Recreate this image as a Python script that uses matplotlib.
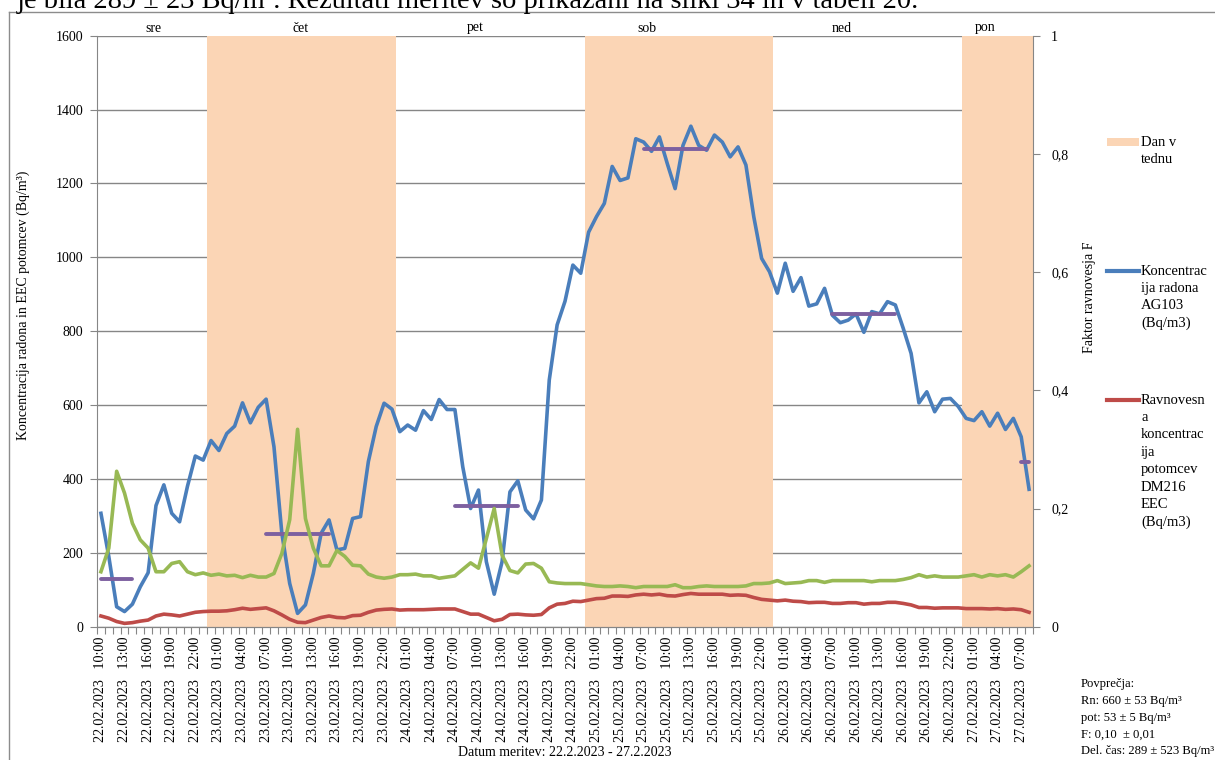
import numpy as np
import pandas as pd
import matplotlib
matplotlib.use("Agg")
import matplotlib.pyplot as plt
from matplotlib.lines import Line2D
from matplotlib.patches import Rectangle

plt.rcParams['font.family'] = ['Liberation Serif', 'DejaVu Serif']
plt.rcParams['font.size'] = 10

# urne meritve 22.2.2023 10:00 - 27.2.2023 08:00
cas = pd.date_range('2023-02-22 10:00', '2023-02-27 08:00', freq='h')

radon = [307, 190, 54, 41, 61, 108, 146, 328, 384, 307,
         284, 380, 462, 451, 504, 477, 523, 543, 606, 552,
         594, 616, 487, 253, 117, 36, 59, 144, 253, 289,
         208, 212, 293, 298, 447, 542, 605, 589, 528, 546,
         532, 585, 561, 615, 588, 588, 433, 320, 370, 176,
         88, 176, 365, 395, 316, 292, 343, 668, 817, 881,
         979, 957, 1068, 1110, 1146, 1246, 1208, 1215, 1321, 1312,
         1287, 1326, 1254, 1186, 1303, 1355, 1303, 1290, 1331, 1312,
         1272, 1299, 1250, 1110, 997, 961, 903, 984, 908, 945,
         868, 874, 916, 843, 823, 830, 847, 797, 853, 847,
         880, 871, 808, 740, 606, 636, 582, 616, 618, 596,
         564, 558, 582, 543, 578, 534, 564, 514, 372]

potomci = [29, 23, 14, 9, 11, 15, 18, 29, 34, 32,
           29, 34, 39, 41, 42, 42, 43, 46, 50, 47,
           49, 51, 43, 32, 20, 12, 11, 18, 25, 29,
           25, 24, 30, 31, 39, 45, 47, 48, 45, 46,
           46, 46, 47, 48, 48, 48, 41, 34, 34, 25,
           16, 20, 33, 34, 32, 31, 33, 51, 61, 63,
           69, 68, 72, 76, 77, 83, 83, 82, 86, 88,
           86, 88, 84, 83, 87, 90, 88, 88, 88, 88,
           85, 86, 85, 79, 74, 72, 70, 72, 69, 68,
           65, 66, 66, 63, 63, 65, 65, 61, 63, 63,
           66, 66, 63, 59, 52, 52, 50, 51, 51, 51,
           49, 49, 49, 48, 49, 47, 48, 46, 39]

faktor_f = [0.093, 0.133, 0.263, 0.226, 0.175, 0.147, 0.133, 0.093, 0.093, 0.107,
            0.110, 0.093, 0.088, 0.091, 0.087, 0.089, 0.086, 0.087, 0.083, 0.087,
            0.084, 0.084, 0.090, 0.124, 0.181, 0.334, 0.183, 0.133, 0.103, 0.103,
            0.129, 0.119, 0.104, 0.103, 0.089, 0.084, 0.082, 0.084, 0.088, 0.088,
            0.089, 0.086, 0.086, 0.082, 0.084, 0.086, 0.097, 0.108, 0.099, 0.149,
            0.200, 0.121, 0.095, 0.091, 0.106, 0.107, 0.099, 0.076, 0.074, 0.073,
            0.073, 0.073, 0.071, 0.069, 0.068, 0.068, 0.069, 0.068, 0.066, 0.068,
            0.068, 0.068, 0.068, 0.071, 0.066, 0.066, 0.068, 0.069, 0.068, 0.068,
            0.068, 0.068, 0.069, 0.073, 0.073, 0.074, 0.078, 0.073, 0.074, 0.075,
            0.078, 0.078, 0.075, 0.078, 0.078, 0.078, 0.078, 0.078, 0.076, 0.078,
            0.078, 0.078, 0.080, 0.083, 0.088, 0.084, 0.086, 0.084, 0.084, 0.084,
            0.086, 0.088, 0.084, 0.088, 0.086, 0.088, 0.084, 0.093, 0.103]

dnevi = ['sre', 'čet', 'pet', 'sob', 'ned', 'pon']
dnevi_datum = ['2023-02-22', '2023-02-23', '2023-02-24', '2023-02-25', '2023-02-26', '2023-02-27']
dnevi_senca = [False, True, False, True, False, True]

# povprecja v delovnem casu
povp_od = ['2023-02-22 10:00', '2023-02-23 07:00', '2023-02-24 07:00',
           '2023-02-25 07:00', '2023-02-26 07:00', '2023-02-27 07:00']
povp_do = ['2023-02-22 14:00', '2023-02-23 15:00', '2023-02-24 15:00',
           '2023-02-25 15:00', '2023-02-26 15:00', '2023-02-27 08:00']
povp_vrednost = [130, 251, 326, 1293, 847, 445]

povzetek = ['Povprečja:', 'Rn: 660 ± 53 Bq/m³', 'pot: 53 ± 5 Bq/m³',
            'F: 0,10  ± 0,01', 'Del. čas: 289 ± 523 Bq/m³']

c_blue = '#4A7EBB'
c_red = '#BE4B48'
c_green = '#98B954'
c_purple = '#7D60A0'
c_day = '#FBD5B5'
c_grey = '#868686'

W, H = 1215, 760
x = np.arange(len(cas))

povp = np.full(len(cas), np.nan)
for od, do, v in zip(povp_od, povp_do, povp_vrednost):
    i0 = cas.get_loc(pd.Timestamp(od))
    i1 = cas.get_loc(pd.Timestamp(do))
    povp[i0:i1 + 1] = v

fig = plt.figure(figsize=(W / 100, H / 100), dpi=100)
ax = fig.add_axes([97 / W, 1 - 626.7 / H, 936 / W, 591 / H])
ax2 = ax.twinx()

ax.set_xlim(-0.5, len(cas) - 0.5)
ax.set_ylim(0, 1600)
ax.set_yticks(range(0, 1601, 200))
ax.set_axisbelow(True)
ax.grid(axis='y', color=c_grey, lw=1)

for dan, senca in zip(dnevi_datum, dnevi_senca):
    if not senca:
        continue
    idx = np.where(cas.normalize() == pd.Timestamp(dan))[0]
    ax.axvspan(idx[0] - 0.5, idx[-1] + 0.5, color=c_day, lw=0, zorder=1)

ax.plot(x, radon, color=c_blue, lw=2.6, zorder=3)
ax.plot(x, potomci, color=c_red, lw=2.6, zorder=3)
ax.plot(x, povp, color=c_purple, lw=2.8, solid_capstyle='round', zorder=4)
ax2.plot(x, faktor_f, color=c_green, lw=2.6)
ax2.set_ylim(0, 1)
ft = [0, 0.2, 0.4, 0.6, 0.8, 1]
ax2.set_yticks(ft, [('%g' % t).replace('.', ',') for t in ft])

for a in (ax, ax2):
    a.spines['top'].set_visible(False)
    for s in ('left', 'right', 'bottom'):
        a.spines[s].set_color(c_grey)
ax.spines['right'].set_visible(False)
ax2.spines['left'].set_visible(False)

ax.set_xticks(np.arange(-0.5, len(cas), 1))
ax.set_xticklabels([])
ax.tick_params(axis='x', which='major', length=5, color=c_grey, direction='out')
oznake = [t.strftime('%d.%m.%Y   %H:%M') for t in cas[::3]]
ax.set_xticks(x[::3], oznake, minor=True, rotation=90)
ax.tick_params(axis='x', which='minor', length=0, pad=7, labelsize=10.2)
ax.tick_params(axis='y', length=5, color=c_grey, pad=5, labelsize=10)
ax2.tick_params(axis='y', length=5, color=c_grey, pad=8, labelsize=10)

fig.text(23 / W, 1 - 305 / H, 'Koncentracija radona in EEC potomcev (Bq/m³)',
         rotation=90, ha='center', va='center')
fig.text(1089 / W, 1 - 297 / H, 'Faktor ravnovesja F', rotation=90, ha='center', va='center')
fig.text(565 / W, 1 - 753 / H, 'Datum meritev: 22.2.2023 - 27.2.2023', ha='center', va='center')

# oznake dni nad grafom
dan_x = [153, 301, 475, 647, 842, 985]
for d, px in zip(dnevi, dan_x):
    fig.text(px / W, 1 - 28 / H, d, ha='center', va='center')

# legenda
fig.add_artist(Rectangle((1107 / W, 1 - 146 / H), 32 / W, 8 / H, color=c_day, lw=0))
fig.add_artist(Line2D([1107 / W, 1139 / W], [1 - 271 / H] * 2, color=c_blue, lw=3))
fig.add_artist(Line2D([1107 / W, 1139 / W], [1 - 400 / H] * 2, color=c_red, lw=3))
leg_text = [(142, ['Dan v', 'tednu']),
            (271, ['Koncentrac', 'ija radona', 'AG103', '(Bq/m3)']),
            (400, ['Ravnovesn', 'a', 'koncentrac', 'ija', 'potomcev', 'DM216', 'EEC', '(Bq/m3)'])]
for y0, lines in leg_text:
    for k, t in enumerate(lines):
        fig.text(1141 / W, 1 - (y0 + k * 17.4) / H, t, ha='left', va='center', fontsize=10.5)

for k, t in enumerate(povzetek):
    fig.text(1081 / W, 1 - (684 + k * 16.8) / H, t, ha='left', va='center', fontsize=9.1)

# besedilo dokumenta in okvir
fig.text(17 / W, 1 - 7.5 / H,
         'je bila 289 ± 23 Bq/m³. Rezultati meritev so prikazani na sliki 34 in v tabeli 20.',
         ha='left', va='baseline', fontsize=20.5)
fig.add_artist(Line2D([9 / W, 1], [1 - 12 / H] * 2, color='#8c8c8c', lw=1))
fig.add_artist(Line2D([9 / W, 9 / W], [0, 1 - 12 / H], color='#8c8c8c', lw=1))

fig.savefig('out.png', dpi=100)
